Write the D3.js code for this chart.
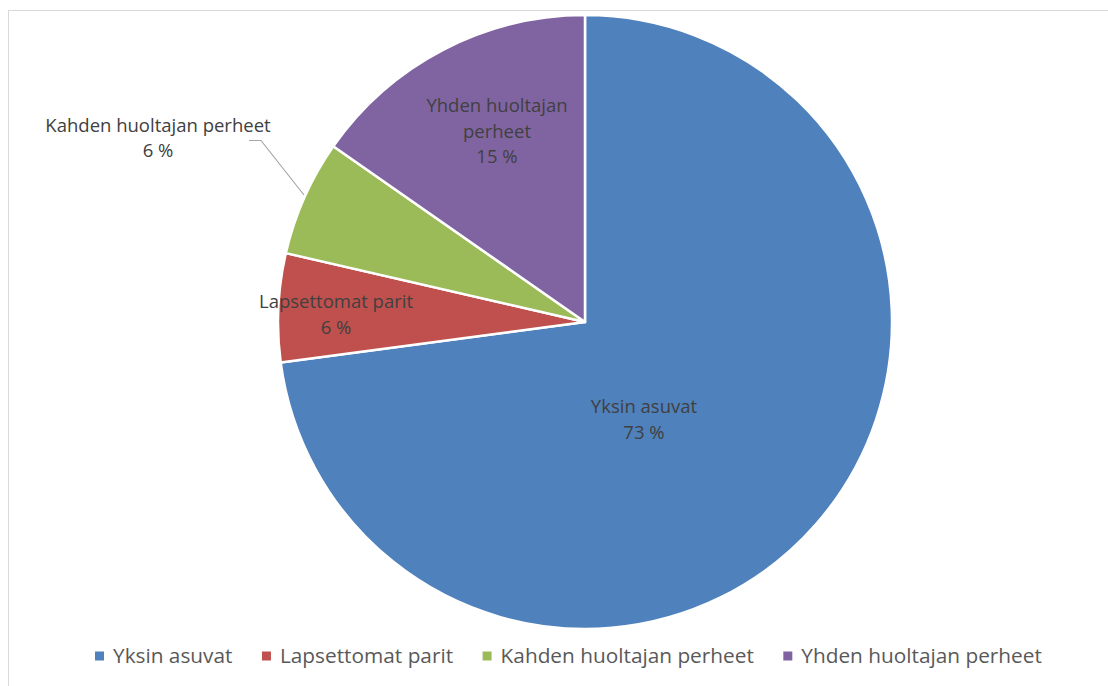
<!DOCTYPE html>
<html><head><meta charset="utf-8">
<script src="https://cdn.jsdelivr.net/npm/d3@7"></script>
<style>body{margin:0;background:#fff}svg{display:block}</style>
</head><body>
<svg id="c" width="1108" height="686"></svg>
<script>
const categories = ["Yksin asuvat", "Lapsettomat parit", "Kahden huoltajan perheet", "Yhden huoltajan perheet"];
const values = [72.9, 5.7, 6.1, 15.3];
const colors = ["#4f81bd", "#c0504d", "#9bbb59", "#8064a2"];
const labelLines = [["Yksin asuvat"], ["Lapsettomat parit"], ["Kahden huoltajan perheet"], ["Yhden huoltajan", "perheet"]];

const svg = d3.select("#c");
const font = "'Open Sans', sans-serif";
svg.append("rect").attr("x", 8.5).attr("y", 10.5).attr("width", 1110).attr("height", 690)
  .attr("fill", "#fff").attr("stroke", "#d9d9d9").attr("stroke-width", 1);

const cx = 585, cy = 322, r = 307;
const data = categories.map((c, i) => ({cat: c, value: values[i], color: colors[i], lines: labelLines[i]}));
const pie = d3.pie().value(d => d.value).sort(null);
const arcs = pie(data);
const arc = d3.arc().innerRadius(0).outerRadius(r);
const g = svg.append("g").attr("transform", `translate(${cx},${cy})`);
g.selectAll("path").data(arcs).join("path")
  .attr("d", arc).attr("fill", d => d.data.color)
  .attr("stroke", "#fff").attr("stroke-width", 2.5).attr("stroke-linejoin", "round");

const labelPos = [
  {x: 644, y: 413, lh: 26},
  {x: 336, y: 308, lh: 26},
  {x: 158, y: 132, lh: 25},
  {x: 497, y: 112, lh: 25.5}
];
arcs.forEach((a, i) => {
  const p = labelPos[i];
  const lines = a.data.lines.concat([Math.round(a.data.value) + " %"]);
  const t = svg.append("text").attr("text-anchor", "middle")
    .attr("font-family", font).attr("font-size", 18.5).attr("fill", "#404040");
  lines.forEach((l, j) => t.append("tspan").attr("x", p.x).attr("y", p.y + j * p.lh).text(l));
});

svg.append("polyline")
  .attr("points", "249,140.5 261,140.5 304,195")
  .attr("fill", "none").attr("stroke", "#a6a6a6").attr("stroke-width", 1.2);

const lg = svg.append("g");
let lx = 95;
data.forEach((d, i) => {
  lg.append("rect").attr("x", lx).attr("y", 651.5).attr("width", 9).attr("height", 9).attr("fill", d.color);
  const t = lg.append("text").attr("x", lx + 18).attr("y", 663)
    .attr("font-family", font).attr("font-size", 20.8).attr("fill", "#595959").text(d.cat);
  lx += 18 + t.node().getComputedTextLength() + 29.5;
});
</script>
</body></html>
